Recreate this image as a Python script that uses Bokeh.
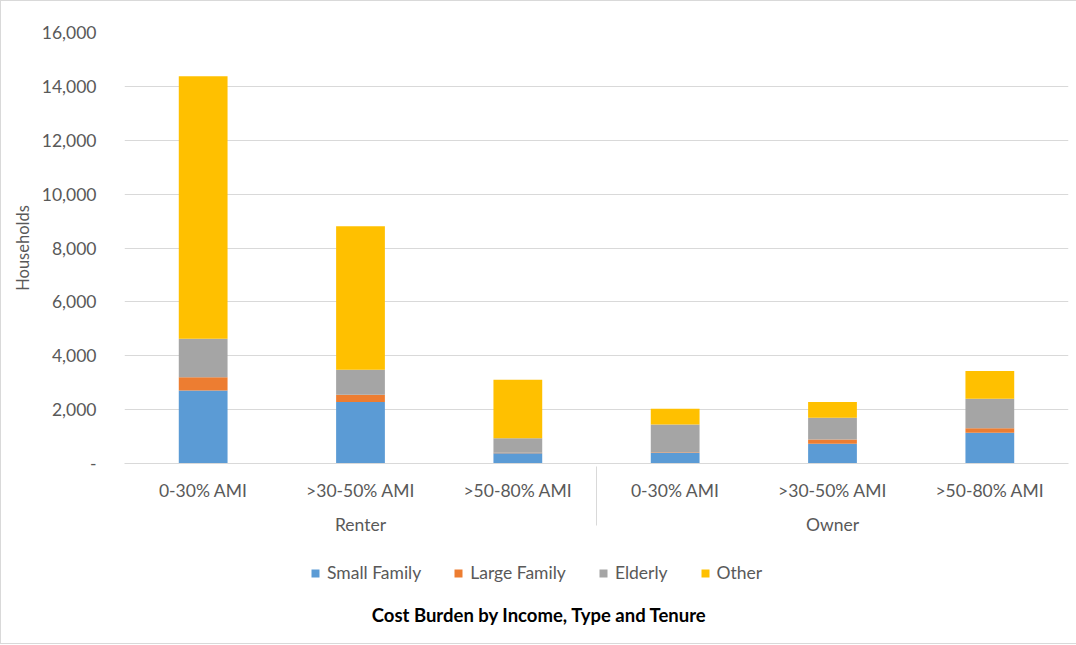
from bokeh.plotting import figure
from bokeh.layouts import column
from bokeh.models import (FactorRange, Range1d, FixedTicker, CustomJSTickFormatter,
                          Legend, LegendItem, Label, ColumnDataSource)
from bokeh.embed import file_html
from bokeh.resources import INLINE

tenures = ["Renter", "Owner"]
incomes = ["0-30% AMI", ">30-50% AMI", ">50-80% AMI"]
series = ["Small Family", "Large Family", "Elderly", "Other"]
small_family = [2710, 2280, 380, 400, 730, 1140]
large_family = [495, 270, 20, 20, 160, 170]
elderly = [1425, 930, 540, 1030, 810, 1090]
other = [9750, 5330, 2170, 580, 580, 1030]
y_ticks = [0, 2000, 4000, 6000, 8000, 10000, 12000, 14000, 16000]
colors = ["#5B9BD5", "#ED7D31", "#A5A5A5", "#FFC000"]
chart_title = "Cost Burden by Income, Type and Tenure"

FONT = "Lato"
GRAY = "#595959"
FS = "17.5px"

factors = [(t, i) for t in tenures for i in incomes]
source = ColumnDataSource(data=dict(
    x=factors,
    **{"Small Family": small_family, "Large Family": large_family,
       "Elderly": elderly, "Other": other}))

p = figure(frame_width=944, frame_height=431, output_backend="svg", toolbar_location=None,
           x_range=FactorRange(*factors, range_padding=0, group_padding=0, factor_padding=0),
           y_range=Range1d(0, 16000),
           min_border_left=123, min_border_right=8, min_border_top=31, min_border_bottom=87)

rs = p.vbar_stack(series, x="x", width=0.31, color=colors, source=source, line_width=0)

p.xgrid.grid_line_color = None
p.ygrid.grid_line_color = "#d9d9d9"
p.ygrid.ticker = FixedTicker(ticks=y_ticks)
p.outline_line_color = None

ya = p.yaxis[0]
ya.ticker = FixedTicker(ticks=y_ticks)
ya.formatter = CustomJSTickFormatter(code="return tick == 0 ? '-' : tick.toLocaleString('en-US');")
ya.axis_line_color = None
ya.major_tick_line_color = None
ya.minor_tick_line_color = None
ya.major_label_text_font = FONT
ya.major_label_text_font_size = FS
ya.major_label_text_color = GRAY
ya.major_label_standoff = 22
ya.axis_label = "Households"
ya.axis_label_text_font = FONT
ya.axis_label_text_font_size = "16.5px"
ya.axis_label_text_font_style = "normal"
ya.axis_label_text_color = GRAY
ya.axis_label_standoff = 6

xa = p.xaxis[0]
xa.axis_line_color = "#d9d9d9"
xa.major_tick_line_color = None
xa.minor_tick_line_color = None
xa.major_label_text_font = FONT
xa.major_label_text_font_size = FS
xa.major_label_text_color = GRAY
xa.major_label_standoff = 10
xa.major_label_orientation = "horizontal"
xa.group_text_font = FONT
xa.group_text_font_size = FS
xa.group_text_font_style = "normal"
xa.group_text_color = GRAY
xa.group_label_orientation = "horizontal"
xa.separator_line_color = "#d9d9d9"
xa.separator_line_width = 1

# Footer figure holding the legend and the chart title (frame aligned with the main one)
f = figure(frame_width=944, frame_height=93, output_backend="svg", toolbar_location=None,
           x_range=Range1d(0, 944), y_range=Range1d(0, 93),
           min_border_left=123, min_border_right=8, min_border_top=0, min_border_bottom=0,
           outline_line_color=None)
f.axis.visible = False
f.grid.visible = False
items = []
for name, c in zip(series, colors):
    r = f.rect(x=[-500], y=[-500], width=1, height=1, color=c, line_width=0)
    items.append(LegendItem(label=name, renderers=[r]))
legend = Legend(items=items, orientation="horizontal", location=(186, 60),
                label_text_font=FONT, label_text_font_size=FS, label_text_color=GRAY,
                glyph_width=10, glyph_height=10, spacing=32, label_standoff=7,
                border_line_color=None, background_fill_alpha=0, margin=0, padding=4)
f.add_layout(legend)
f.add_layout(Label(x=415, y=29, x_units="screen", y_units="screen", text=chart_title,
                   text_align="center", text_baseline="middle", text_font=FONT,
                   text_font_size="18.5px", text_font_style="bold", text_color="#000000"))

layout = column(p, f, spacing=0)
layout.styles = {"border": "1px solid #d9d9d9"}

open("out.html", "w").write(file_html(layout, INLINE))
